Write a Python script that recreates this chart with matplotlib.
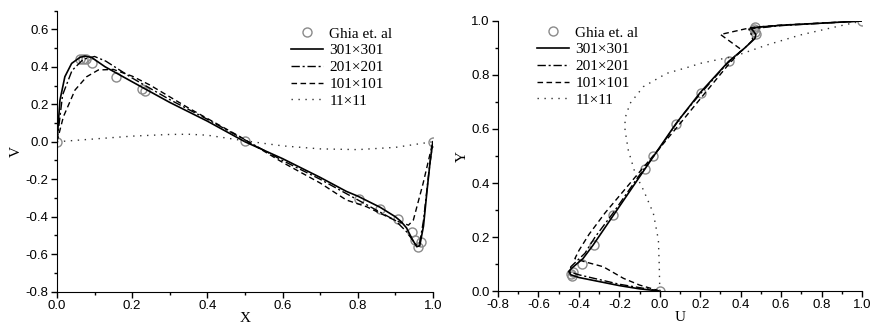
import numpy as np
import matplotlib
matplotlib.use("Agg")
import matplotlib.pyplot as plt
from matplotlib.ticker import MultipleLocator

# ---- V along horizontal centre line (left panel) ----
ghia_x = [1.0, 0.9688, 0.9609, 0.9531, 0.9453, 0.9063, 0.8594, 0.8047, 0.5,
          0.2344, 0.2266, 0.1563, 0.0938, 0.0781, 0.0703, 0.0625, 0.0]
ghia_v = [0.0, -0.534, -0.56, -0.525, -0.48, -0.41, -0.357, -0.304, 0.005,
          0.273, 0.282, 0.348, 0.42, 0.44, 0.44, 0.44, 0.0]

x301 = [0.0, 0.008, 0.021, 0.039, 0.061, 0.074, 0.092, 0.128, 0.2, 0.3, 0.4, 0.5,
        0.6, 0.7, 0.77, 0.8, 0.86, 0.9, 0.915, 0.93, 0.945, 0.957, 0.965, 0.975,
        0.985, 0.993, 1.0]
v301 = [0.0, 0.222, 0.347, 0.418, 0.45, 0.457, 0.45, 0.40, 0.32, 0.21, 0.11, 0.0,
        -0.09, -0.19, -0.265, -0.29, -0.35, -0.40, -0.425, -0.46, -0.52, -0.56,
        -0.555, -0.45, -0.25, -0.1, 0.0]

x201 = [0.0, 0.015, 0.04, 0.07, 0.1, 0.13, 0.2, 0.3, 0.4, 0.5, 0.6, 0.7, 0.8,
        0.9, 0.93, 0.955, 0.965, 0.975, 0.99, 1.0]
v201 = [0.0, 0.25, 0.38, 0.44, 0.455, 0.43, 0.34, 0.225, 0.12, 0.01, -0.1, -0.2,
        -0.31, -0.42, -0.48, -0.55, -0.54, -0.42, -0.15, 0.0]

x101 = [0.0, 0.017, 0.048, 0.079, 0.11, 0.15, 0.2, 0.247, 0.35, 0.487, 0.6, 0.7,
        0.77, 0.824, 0.9, 0.935, 0.948, 0.974, 1.0]
v101 = [0.0, 0.133, 0.276, 0.347, 0.383, 0.386, 0.35, 0.303, 0.18, 0.027, -0.11,
        -0.22, -0.311, -0.347, -0.42, -0.445, -0.418, -0.222, 0.0]

x11 = [0.0, 0.1, 0.2, 0.3, 0.35, 0.4, 0.5, 0.6, 0.7, 0.8, 0.9, 1.0]
v11 = [0.0, 0.015, 0.03, 0.039, 0.04, 0.035, 0.005, -0.022, -0.038, -0.042, -0.03, 0.0]

# ---- U along vertical centre line (right panel) ----
ghia_y = [1.0, 0.9766, 0.9688, 0.9609, 0.9531, 0.8516, 0.7344, 0.6172, 0.5,
          0.4531, 0.2813, 0.1719, 0.1016, 0.0703, 0.0625, 0.0547, 0.0]
ghia_u = [1.0, 0.47, 0.465, 0.47, 0.475, 0.34, 0.205, 0.08, -0.035, -0.075,
          -0.23, -0.325, -0.386, -0.428, -0.44, -0.436, 0.0]

u301 = [0.0, -0.1, -0.2, -0.3, -0.4, -0.44, -0.45, -0.435, -0.38, -0.33, -0.23,
        -0.13, -0.03, 0.08, 0.2, 0.34, 0.42, 0.47, 0.475, 0.46, 0.45, 0.6, 0.8, 1.0]
y301 = [0.0, 0.008, 0.02, 0.035, 0.05, 0.06, 0.072, 0.085, 0.12, 0.17, 0.28,
        0.39, 0.5, 0.62, 0.735, 0.85, 0.9, 0.935, 0.95, 0.965, 0.975, 0.984, 0.992, 1.0]

u201 = [0.0, -0.2, -0.4, -0.445, -0.44, -0.37, -0.32, -0.23, -0.1, 0.0, 0.1, 0.2,
        0.33, 0.42, 0.46, 0.45, 0.44, 0.6, 1.0]
y201 = [0.0, 0.025, 0.06, 0.07, 0.09, 0.14, 0.2, 0.29, 0.43, 0.53, 0.64, 0.73,
        0.84, 0.9, 0.93, 0.955, 0.97, 0.983, 1.0]

u101 = [0.0, -0.1, -0.18, -0.28, -0.37, -0.42, -0.40, -0.35, -0.27, -0.18, -0.09,
        0.0, 0.1, 0.22, 0.33, 0.405, 0.30, 0.43, 0.47, 0.6, 1.0]
y101 = [0.0, 0.022, 0.047, 0.09, 0.108, 0.12, 0.15, 0.21, 0.29, 0.37, 0.45,
        0.53, 0.62, 0.73, 0.83, 0.893, 0.95, 0.972, 0.977, 0.985, 1.0]

u11 = [0.0, -0.003, -0.007, -0.032, -0.081, -0.122, -0.156, -0.172, -0.172, -0.147,
       -0.081, 0.034, 0.15, 0.2, 0.282, 0.364, 0.529, 0.694, 0.85, 1.0]
y11 = [0.0, 0.1, 0.189, 0.288, 0.374, 0.436, 0.522, 0.596, 0.64, 0.695,
       0.757, 0.806, 0.831, 0.843, 0.856, 0.868, 0.911, 0.948, 0.975, 1.0]

labels = ["Ghia et. al", "301\u00d7301", "201\u00d7201", "101\u00d7101", "11\u00d711"]

serif = "Liberation Serif"
sans = "Liberation Sans"

fig = plt.figure(figsize=(8.71, 3.25), dpi=100)
ax1 = fig.add_axes([0.0654, 0.1025, 0.4316, 0.865])
ax2 = fig.add_axes([0.5718, 0.1046, 0.4179, 0.8308])

dashdot = (0, (6, 2, 1.5, 2))
dashed = (0, (4, 2.5))
dotted = (0, (1, 4))


def draw(ax, data):
    (gx, gy), a, b, c, d = data
    ax.plot(gx, gy, "o", mfc="none", mec="#8a8a8a", ms=6.5, mew=1.0, label=labels[0])
    ax.plot(*a, color="black", lw=1.2, label=labels[1])
    ax.plot(*b, color="black", lw=1.0, ls=dashdot, label=labels[2])
    ax.plot(*c, color="black", lw=1.0, ls=dashed, label=labels[3])
    ax.plot(*d, color="#333333", lw=1.0, ls=dotted, label=labels[4])


draw(ax1, [(ghia_x, ghia_v), (x301, v301), (x201, v201), (x101, v101), (x11, v11)])
draw(ax2, [(ghia_u, ghia_y), (u301, y301), (u201, y201), (u101, y101), (u11, y11)])

for ax in (ax1, ax2):
    ax.spines["top"].set_visible(False)
    ax.spines["right"].set_visible(False)
    ax.xaxis.set_major_locator(MultipleLocator(0.2))
    ax.xaxis.set_minor_locator(MultipleLocator(0.1))
    ax.yaxis.set_major_locator(MultipleLocator(0.2))
    ax.yaxis.set_minor_locator(MultipleLocator(0.1))
    ax.xaxis.set_major_formatter(plt.FormatStrFormatter("%.1f"))
    ax.yaxis.set_major_formatter(plt.FormatStrFormatter("%.1f"))
    ax.tick_params(which="major", direction="out", length=4, width=1, labelsize=9.5, pad=2)
    ax.tick_params(which="minor", direction="out", length=2.5, width=1)
    for t in ax.get_xticklabels() + ax.get_yticklabels():
        t.set_fontfamily(sans)

ax1.set_xlim(0, 1.0)
ax1.set_ylim(-0.8, 0.7)
ax2.set_xlim(-0.8, 1.0)
ax2.set_ylim(0, 1.0)

ax1.set_xlabel("X", fontfamily=serif, fontsize=11, labelpad=0)
ax1.set_ylabel("V", fontfamily=serif, fontsize=11, labelpad=2)
ax2.set_xlabel("U", fontfamily=serif, fontsize=11, labelpad=0)
ax2.set_ylabel("Y", fontfamily=serif, fontsize=11, labelpad=2)

leg_kw = dict(frameon=False, loc="upper left", borderpad=0, borderaxespad=0,
              handlelength=2.1, handletextpad=0.4, labelspacing=0.2,
              prop={"family": serif, "size": 11})
fig.legend(*ax1.get_legend_handles_labels(), bbox_to_anchor=(291 / 871, 1 - 27 / 325), **leg_kw)
fig.legend(*ax2.get_legend_handles_labels(), bbox_to_anchor=(537 / 871, 1 - 26 / 325), **leg_kw)

fig.savefig("out.png", dpi=100)
